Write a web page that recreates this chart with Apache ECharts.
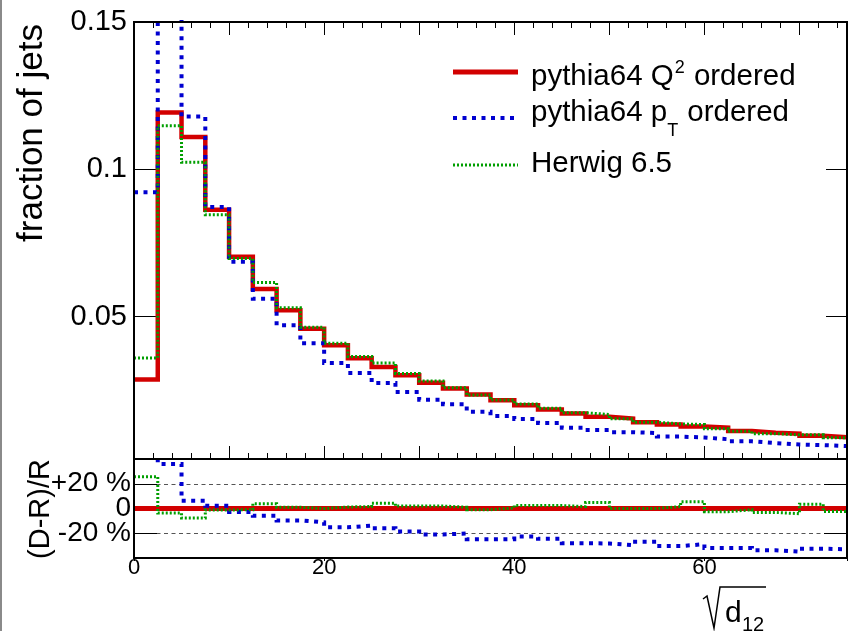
<!DOCTYPE html>
<html>
<head>
<meta charset="utf-8">
<script src="https://cdn.jsdelivr.net/npm/echarts@6/dist/echarts.min.js"></script>
<style>
  html, body { margin: 0; padding: 0; background: #fff; }
  #chart { width: 850px; height: 631px; }
</style>
</head>
<body>
<div id="chart"></div>
<script>
// Bin edges of the sqrt(d12) histogram
const binEdges = [0, 2.5, 5, 7.5, 10, 12.5, 15, 17.5, 20, 22.5, 25, 27.5, 30, 32.5, 35, 37.5,
  40, 42.5, 45, 47.5, 50, 52.5, 55, 57.5, 60, 62.5, 65, 67.5, 70, 72.5, 75];

// Fraction of jets per bin
const q2Ordered = [0.0287, 0.1193, 0.1110, 0.0863, 0.0703, 0.0594, 0.0522, 0.0459, 0.0403, 0.0359,
  0.0329, 0.0301, 0.0276, 0.0256, 0.0236, 0.0216, 0.0199, 0.0185, 0.0171, 0.0160,
  0.0154, 0.0142, 0.0134, 0.0127, 0.0123, 0.0112, 0.0106, 0.0103, 0.0096, 0.0091];
const ptOrdered = [0.0922, 0.1622, 0.1179, 0.0872, 0.0686, 0.0561, 0.0471, 0.0410, 0.0343, 0.0309,
  0.0275, 0.0244, 0.0218, 0.0203, 0.0177, 0.0163, 0.0153, 0.0139, 0.0123, 0.0115,
  0.0108, 0.0105, 0.0093, 0.0090, 0.0084, 0.0077, 0.0071, 0.0066, 0.0064, 0.0061];
const herwig = [0.0360, 0.1148, 0.1024, 0.0846, 0.0697, 0.0616, 0.0530, 0.0464, 0.0410, 0.0365,
  0.0343, 0.0307, 0.0282, 0.0259, 0.0234, 0.0217, 0.0204, 0.0189, 0.0174, 0.0168,
  0.0154, 0.0142, 0.0136, 0.0134, 0.0120, 0.0111, 0.0103, 0.0099, 0.0099, 0.0089];

// Relative deviation (D-R)/R with respect to the Q^2 ordered reference
const q2Ratio = [0, 0, 0, 0, 0, 0, 0, 0, 0, 0, 0, 0, 0, 0, 0, 0, 0, 0, 0, 0, 0, 0, 0, 0, 0, 0, 0, 0, 0, 0];
const ptRatio = [2.21, 0.36, 0.062, 0.022, -0.029, -0.058, -0.096, -0.112, -0.152, -0.138,
  -0.16, -0.186, -0.21, -0.202, -0.248, -0.248, -0.226, -0.245, -0.28, -0.283,
  -0.296, -0.269, -0.304, -0.288, -0.32, -0.32, -0.338, -0.349, -0.325, -0.33];
const herwigRatio = [0.256, -0.037, -0.077, -0.012, -0.01, 0.038, 0.01, 0.0, 0.012, 0.016,
  0.043, 0.021, 0.02, 0.01, -0.01, 0.005, 0.024, 0.024, 0.016, 0.048,
  0, 0, 0.016, 0.054, -0.026, -0.01, -0.032, -0.042, 0.035, -0.024];

// Tick labels
const xTickLabels = [0, 20, 40, 60];
const mainYTicks = [0.05, 0.1, 0.15];
const ratioYTicks = [-0.2, 0, 0.2];
const ratioYLabels = ['-20 %', '0', '+20 %'];

const FONT = '"Liberation Sans", Arial, Helvetica, sans-serif';
const RED = '#d20000', BLUE = '#0000d0', GREEN = '#009f00';

// Histogram as a step line: one point per left edge plus the closing right edge
function histLine(vals) {
  const pts = vals.map((v, i) => [binEdges[i], v]);
  pts.push([binEdges[vals.length], vals[vals.length - 1]]);
  return pts;
}

function tickAxis(grid, pos, interval, len) {
  return {
    type: 'value', gridIndex: grid, position: pos, min: 0, max: 75, interval: interval,
    axisLine: { show: false, onZero: false },
    axisTick: { show: true, inside: true, length: len, lineStyle: { color: '#000', width: 1 } },
    axisLabel: { show: false }, splitLine: { show: false }
  };
}

const measureCtx = document.createElement('canvas').getContext('2d');
function textWidth(str, size) {
  measureCtx.font = size + 'px ' + FONT;
  return measureCtx.measureText(str).width;
}

// Text element placed by its alphabetic baseline (middle of em box sits ~0.31em above it)
function baselineText(str, x, baseline, size) {
  return {
    type: 'text', x: x, y: baseline - 0.31 * size,
    style: { text: str, font: size + 'px ' + FONT, fill: '#000', align: 'left', verticalAlign: 'middle' }
  };
}

// Legend built from text pieces so that super/subscripts sit like in TLatex
function legendEntry(y, baseline, color, width, dash, parts) {
  const els = [{
    type: 'line', shape: { x1: 453, y1: y, x2: 518, y2: y },
    style: { stroke: color, lineWidth: width, lineDash: dash, lineCap: 'butt' }
  }];
  let x = 531;
  parts.forEach(p => {
    const size = p.size || 29.5;
    els.push(baselineText(p.t, x, baseline + (p.dy || 0), size));
    x += textWidth(p.t, size) + (p.gap || 0);
  });
  return els;
}

const chart = echarts.init(document.getElementById('chart'), null, { renderer: 'canvas' });

const graphics = [
  { type: 'line', shape: { x1: 1, y1: 0, x2: 1, y2: 631 }, style: { stroke: '#8a8a8a', lineWidth: 2 } },
  {
    type: 'text', x: 32, y: 133, rotation: Math.PI / 2,
    style: { text: 'fraction of jets', font: '35px ' + FONT, fill: '#000', align: 'center', verticalAlign: 'middle' }
  },
  {
    type: 'text', x: 41, y: 509, rotation: Math.PI / 2,
    style: { text: '(D-R)/R', font: '29px ' + FONT, fill: '#000', align: 'center', verticalAlign: 'middle' }
  },
  // sqrt(d12) axis title
  {
    type: 'polyline', shape: { points: [[703, 599], [707, 596], [714, 628], [720, 587], [766, 587]] },
    style: { stroke: '#000', lineWidth: 1.5, fill: null }
  },
  baselineText('d', 725, 623, 30),
  baselineText('12', 742, 632, 20)
]
  .concat(legendEntry(72, 86, RED, 5, null,
    [{ t: 'pythia64 Q', gap: 1 }, { t: '2', size: 18, dy: -12, gap: 1 }, { t: ' ordered' }]))
  .concat(legendEntry(118, 122, BLUE, 4, [4, 5.5],
    [{ t: 'pythia64 p', gap: 0 }, { t: 'T', size: 18, dy: 15, gap: 1 }, { t: ' ordered' }]))
  .concat(legendEntry(165, 173.5, GREEN, 3, [2, 2],
    [{ t: 'Herwig 6.5' }]));

function stepSeries(data, xi, yi, color, width, dash, z) {
  return {
    type: 'line', xAxisIndex: xi, yAxisIndex: yi, data: data, step: 'end',
    symbol: 'none', showSymbol: false, clip: true, z: z, silent: true,
    lineStyle: { color: color, width: width, type: dash || 'solid', cap: 'butt', join: 'miter' }
  };
}

const option = {
  animation: false,
  backgroundColor: '#fff',
  textStyle: { fontFamily: FONT },
  grid: [
    { left: 134, top: 22, width: 713, height: 437, show: true, borderColor: '#000', borderWidth: 2, backgroundColor: 'transparent', z: 10 },
    { left: 134, top: 459, width: 713, height: 99, show: true, borderColor: '#000', borderWidth: 2, backgroundColor: 'transparent', z: 10 }
  ],
  xAxis: [
    tickAxis(0, 'bottom', 2, 6),
    tickAxis(0, 'bottom', 10, 13),
    tickAxis(0, 'top', 2, 6),
    tickAxis(0, 'top', 10, 13),
    {
      type: 'value', gridIndex: 1, position: 'bottom', min: 0, max: 75, interval: 20,
      axisLine: { show: false, onZero: false },
      axisTick: { show: true, inside: false, length: 3, lineStyle: { color: '#000' } },
      axisLabel: {
        show: true, fontSize: 22, color: '#000', fontFamily: FONT, margin: -1,
        formatter: v => (xTickLabels.indexOf(v) >= 0 ? String(v) : '')
      },
      splitLine: { show: false }
    }
  ],
  yAxis: [
    {
      type: 'value', gridIndex: 0, position: 'left', min: 0.0017, max: 0.15,
      axisLine: { show: false, onZero: false },
      axisTick: { show: true, inside: true, length: 22, customValues: mainYTicks, lineStyle: { color: '#000' } },
      axisLabel: { show: true, customValues: mainYTicks, fontSize: 29, color: '#000', fontFamily: FONT, margin: 7,
        padding: [5, 0, 0, 0], formatter: v => String(v) },
      splitLine: { show: false }
    },
    {
      type: 'value', gridIndex: 0, position: 'right', min: 0.0017, max: 0.15,
      axisLine: { show: false, onZero: false },
      axisTick: { show: true, inside: true, length: 21, customValues: mainYTicks, lineStyle: { color: '#000' } },
      axisLabel: { show: false }, splitLine: { show: false }
    },
    {
      type: 'value', gridIndex: 1, position: 'left', min: -0.4, max: 0.4, interval: 0.2,
      axisLine: { show: false, onZero: false },
      axisTick: { show: true, inside: true, length: 23, lineStyle: { color: '#000' } },
      axisLabel: {
        show: true, fontSize: 28, color: '#000', fontFamily: FONT, margin: 3,
        formatter: v => {
          const k = ratioYTicks.findIndex(t => Math.abs(t - v) < 1e-9);
          return k >= 0 ? ratioYLabels[k] : '';
        }
      },
      splitLine: { show: true, lineStyle: { color: '#555', width: 1, type: [4, 3.5] } }
    },
    {
      type: 'value', gridIndex: 1, position: 'right', min: -0.4, max: 0.4, interval: 0.2,
      axisLine: { show: false, onZero: false },
      axisTick: { show: true, inside: true, length: 23, lineStyle: { color: '#000' } },
      axisLabel: { show: false }, splitLine: { show: false }
    }
  ],
  series: [
    stepSeries(histLine(q2Ordered), 0, 0, RED, 4.5, null, 2),
    stepSeries(histLine(ptOrdered), 0, 0, BLUE, 4, [4, 5.5], 3),
    stepSeries(histLine(herwig), 0, 0, GREEN, 3, [2, 2], 4),
    stepSeries(histLine(q2Ratio), 4, 2, RED, 5, null, 2),
    stepSeries(histLine(ptRatio), 4, 2, BLUE, 4, [4, 5.5], 3),
    stepSeries(histLine(herwigRatio), 4, 2, GREEN, 3, [2, 2], 4)
  ],
  graphic: graphics
};

chart.setOption(option);
</script>
</body>
</html>
